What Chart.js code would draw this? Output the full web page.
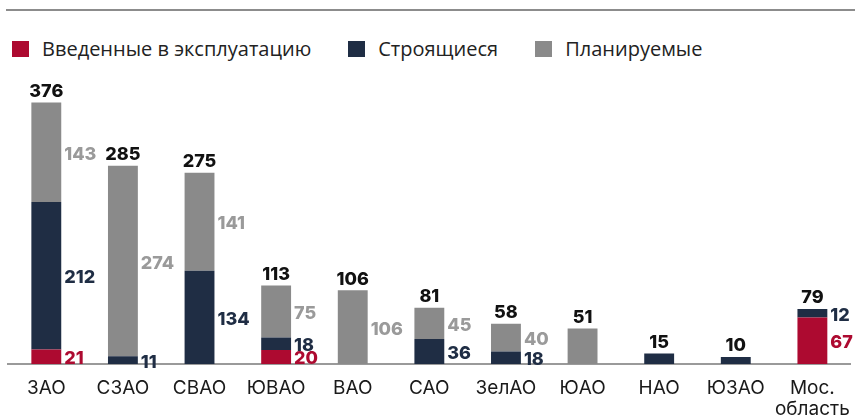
<!DOCTYPE html>
<html>
<head>
<meta charset="utf-8">
<script src="https://cdn.jsdelivr.net/npm/chart.js@4/dist/chart.umd.min.js"></script>
<style>
  body { margin: 0; background: #fff; }
  #wrap { position: relative; width: 855px; height: 417px; overflow: hidden; }
  #topline { position: absolute; left: 6px; right: 0; top: 9px; border-top: 2px solid #8c8c8c; }
  #legend { position: absolute; left: 12px; top: 39px; display: flex; font-family: "Open Sans", sans-serif; font-size: 20px; line-height: 20px; color: #222; }
  #legend .item { display: flex; align-items: center; margin-right: 37px; }
  #legend .box { width: 17px; height: 16px; margin-right: 13px; }
  canvas { position: absolute; left: 0; top: 0; }
</style>
</head>
<body>
<div id="wrap">
  <div id="topline"></div>
  <div id="legend"></div>
  <canvas id="chart" width="855" height="417"></canvas>
</div>
<script>
const districts = ['ЗАО', 'СЗАО', 'СВАО', 'ЮВАО', 'ВАО', 'САО', 'ЗелАО', 'ЮАО', 'НАО', 'ЮЗАО', ['Мос.', 'область']];
const seriesNames = ['Введенные в эксплуатацию', 'Строящиеся', 'Планируемые'];
const commissioned = [21, 0, 0, 20, 0, 0, 0, 0, 0, 0, 67];
const underConstruction = [212, 11, 134, 18, 0, 36, 18, 0, 15, 10, 12];
const planned = [143, 274, 141, 75, 106, 45, 40, 51, 0, 0, 0];
// у этих колонок в оригинале подписи сбоку нет, только сумма сверху
const noSideLabels = ['ЮАО', 'НАО', 'ЮЗАО'];

const barColors = ['#ad0a30', '#1f2d44', '#8a8a8a'];
const labelColors = ['#ad0a30', '#1f2d44', '#9a9a9a'];

// легенда
const legend = document.getElementById('legend');
seriesNames.forEach((name, i) => {
  const item = document.createElement('div');
  item.className = 'item';
  item.innerHTML = '<span class="box" style="background:' + barColors[i] + '"></span><span>' + name + '</span>';
  legend.appendChild(item);
});

const valueLabels = {
  id: 'valueLabels',
  afterDatasetsDraw (chart) {
    const ctx = chart.ctx;
    const sets = chart.data.datasets;
    ctx.save();
    ctx.font = '800 18px Inter, sans-serif';
    ctx.textBaseline = 'middle';
    chart.data.labels.forEach((label, i) => {
      const name = Array.isArray(label) ? label.join(' ') : label;
      let total = 0;
      let topY = null;
      let barX = 0;
      sets.forEach((ds, d) => {
        const v = ds.data[i];
        if (!v) return;
        const bar = chart.getDatasetMeta(d).data[i];
        total += v;
        topY = bar.y;
        barX = bar.x;
        if (noSideLabels.indexOf(name) === -1) {
          ctx.fillStyle = labelColors[d];
          ctx.textAlign = 'left';
          ctx.fillText(String(v), bar.x + bar.width / 2 + 3, (bar.y + bar.base) / 2 + 2);
        }
      });
      if (topY !== null) {
        ctx.fillStyle = '#111';
        ctx.textAlign = 'center';
        ctx.fillText(String(total), barX, topY - 11);
      }
    });
    ctx.restore();
  }
};

new Chart(document.getElementById('chart'), {
  type: 'bar',
  data: {
    labels: districts,
    datasets: [
      { label: seriesNames[0], data: commissioned, backgroundColor: barColors[0] },
      { label: seriesNames[1], data: underConstruction, backgroundColor: barColors[1] },
      { label: seriesNames[2], data: planned, backgroundColor: barColors[2] }
    ]
  },
  options: {
    responsive: false,
    animation: false,
    layout: { padding: { top: 72, left: 8, right: 4, bottom: 0 } },
    datasets: { bar: { barPercentage: 0.39, categoryPercentage: 1 } },
    plugins: { legend: { display: false }, tooltip: { enabled: false } },
    scales: {
      x: {
        stacked: true,
        grid: { display: false },
        border: { display: true, color: '#9a9a9a', width: 2 },
        afterFit (scale) { scale.height = 53; },
        ticks: {
          color: '#1a1a1a',
          padding: 5,
          font: { family: 'Inter, sans-serif', size: 19, lineHeight: 1.15 },
          maxRotation: 0,
          autoSkip: false
        }
      },
      y: {
        stacked: true,
        display: false,
        min: 0,
        max: 420
      }
    }
  },
  plugins: [valueLabels]
});
</script>
</body>
</html>
